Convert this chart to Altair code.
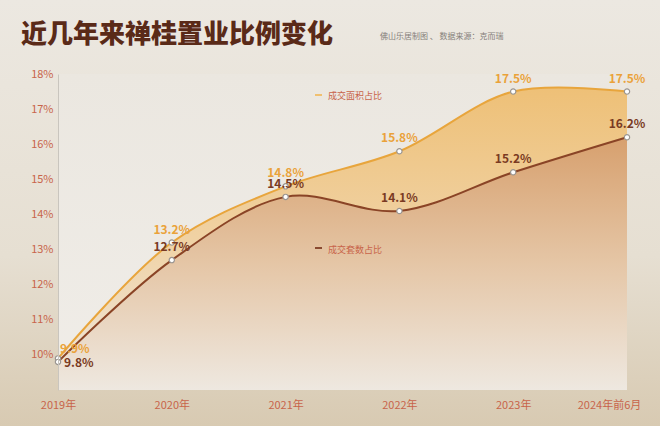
import altair as alt
import pandas as pd

years = ["2019年", "2020年", "2021年", "2022年", "2023年", "2024年前6月"]
area_share = [9.9, 13.2, 14.8, 15.8, 17.5, 17.5]   # 成交面积占比
count_share = [9.8, 12.7, 14.5, 14.1, 15.2, 16.2]  # 成交套数占比
y_ticks = [10, 11, 12, 13, 14, 15, 16, 17, 18]

df = pd.DataFrame({"year": years, "area": area_share, "count": count_share})
df["area_lbl"] = [f"{v:.1f}%" for v in area_share]
df["count_lbl"] = [f"{v:.1f}%" for v in count_share]

W, H = 569, 316
FONT = "Noto Sans CJK SC"
INTERP = "catmull-rom"

x = alt.X("year:N", sort=years, scale=alt.Scale(type="point", padding=0),
          axis=alt.Axis(title=None, labelAngle=0, domain=False, ticks=False, zindex=1,
                        labelColor="#c8644a", labelFontSize=11, labelPadding=9,
                        labelFont=FONT, labelOverlap=False, labelBound=False,
                        labelOffset={"condition": {"test": "datum.value == '2024年前6月'",
                                                   "value": -18}, "value": 0}))
yscale = alt.Scale(domain=[9, 18], nice=False, zero=False)
yaxis = alt.Axis(title=None, values=y_ticks, labelExpr="datum.value + '%'",
                 grid=False, ticks=False, domain=True, domainColor="#c9c5be", zindex=1,
                 labelOverlap=False, labelColor="#c8644a", labelFontSize=11,
                 labelPadding=5, labelFont=FONT)


def Y(field):
    return alt.Y(field, scale=yscale, axis=yaxis)


base = alt.Chart(df)
ann = pd.DataFrame({"t": ["a"]})

page = alt.Chart(ann).mark_rect(
    color=alt.Gradient(gradient="linear", x1=0, y1=0, x2=0, y2=1,
                       stops=[alt.GradientStop(offset=0, color="#ece8e1"),
                              alt.GradientStop(offset=0.6, color="#e6dfd2"),
                              alt.GradientStop(offset=1, color="#d8cab2")])
).encode(x=alt.value(-58), x2=alt.value(W + 33), y=alt.value(-74), y2=alt.value(H + 36))

bg = alt.Chart(ann).mark_rect(
    color=alt.Gradient(gradient="linear", x1=0, y1=0, x2=0, y2=1,
                       stops=[alt.GradientStop(offset=0, color="#ebe7e0"),
                              alt.GradientStop(offset=1, color="#f0ede8")])
).encode(x=alt.value(0), x2=alt.value(W), y=alt.value(0), y2=alt.value(H))

area_up = base.mark_area(
    interpolate=INTERP,
    color=alt.Gradient(gradient="linear", x1=0, y1=0, x2=0, y2=1,
                       stops=[alt.GradientStop(offset=0, color="#eec077"),
                              alt.GradientStop(offset=0.5, color="#f0d2a4"),
                              alt.GradientStop(offset=1, color="#efe9e1")])
).encode(x=x, y=Y("area:Q"), y2=alt.datum(9))

area_dn = base.mark_area(
    interpolate=INTERP,
    color=alt.Gradient(gradient="linear", x1=0, y1=0, x2=0, y2=1,
                       stops=[alt.GradientStop(offset=0, color="#d7a06e"),
                              alt.GradientStop(offset=0.5, color="#e5c6a6"),
                              alt.GradientStop(offset=1, color="#eee8e0")])
).encode(x=x, y=Y("count:Q"), y2=alt.datum(9))

line_up = base.mark_line(interpolate=INTERP, color="#e8a53c", strokeWidth=2).encode(
    x=x, y=Y("area:Q"))
line_dn = base.mark_line(interpolate=INTERP, color="#8a4426", strokeWidth=2).encode(
    x=x, y=Y("count:Q"))

pt_up = base.mark_point(filled=True, fill="white", stroke="#9a9590", strokeWidth=1.2,
                        size=28, opacity=1).encode(x=x, y=Y("area:Q"))
pt_dn = base.mark_point(filled=True, fill="white", stroke="#9a9590", strokeWidth=1.2,
                        size=28, opacity=1).encode(x=x, y=Y("count:Q"))

rest = base.transform_filter(alt.datum.year != "2019年")
first = base.transform_filter(alt.datum.year == "2019年")

txt_up = rest.mark_text(font=FONT, fontSize=12, fontWeight="bold", color="#eaa23a",
                        baseline="bottom", dy=-6).encode(
    x=x, y=Y("area:Q"), text="area_lbl:N")
txt_dn = rest.mark_text(font=FONT, fontSize=12, fontWeight="bold", color="#7a3a22",
                        baseline="bottom", dy=-6).encode(
    x=x, y=Y("count:Q"), text="count_lbl:N")
txt_up0 = first.mark_text(font=FONT, fontSize=12, fontWeight="bold", color="#eaa23a",
                          align="left", baseline="middle", dx=2, dy=-9).encode(
    x=x, y=Y("area:Q"), text="area_lbl:N")
txt_dn0 = first.mark_text(font=FONT, fontSize=12, fontWeight="bold", color="#7a3a22",
                          align="left", baseline="middle", dx=6, dy=1).encode(
    x=x, y=Y("count:Q"), text="count_lbl:N")

leg1_mark = alt.Chart(ann).mark_rule(color="#f0c070", strokeWidth=2).encode(
    x=alt.value(257), x2=alt.value(264), y=alt.value(21))
leg1 = alt.Chart(ann).mark_text(text="成交面积占比", font=FONT, fontSize=9, color="#c8644a",
                                align="left", baseline="middle").encode(
    x=alt.value(270), y=alt.value(22))
leg2_mark = alt.Chart(ann).mark_rule(color="#8a4a30", strokeWidth=2).encode(
    x=alt.value(257), x2=alt.value(264), y=alt.value(174))
leg2 = alt.Chart(ann).mark_text(text="成交套数占比", font=FONT, fontSize=9, color="#c8644a",
                                align="left", baseline="middle").encode(
    x=alt.value(270), y=alt.value(176))

title = alt.Chart(ann).mark_text(text="近几年来禅桂置业比例变化", font=FONT, fontSize=26,
                                 fontWeight=900, color="#5a2a18", align="left",
                                 baseline="middle").encode(
    x=alt.value(-37), y=alt.value(-39))
sub = alt.Chart(ann).mark_text(text="佛山乐居制图 、 数据来源：克而瑞", font=FONT, fontSize=8,
                               color="#85807a", align="left", baseline="middle").encode(
    x=alt.value(322), y=alt.value(-37))

chart = alt.layer(
    page, bg, area_up, area_dn, line_up, line_dn, pt_up, pt_dn,
    txt_up, txt_dn, txt_up0, txt_dn0, leg1_mark, leg1, leg2_mark, leg2, title, sub
).properties(
    width=W, height=H,
    autosize=alt.AutoSizeParams(type="none"),
    padding={"left": 58, "top": 74, "right": 33, "bottom": 36},
    background="#e5ddcf",
).configure_view(stroke=None)

chart.save("out.html", embed_options={"renderer": "svg", "actions": False})
